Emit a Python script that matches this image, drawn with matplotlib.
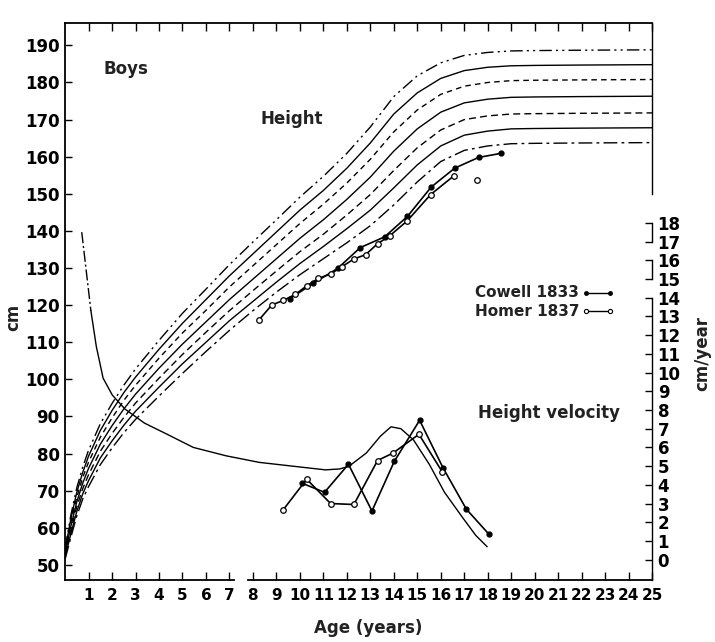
import matplotlib
matplotlib.use("Agg")
import matplotlib.pyplot as plt

plt.rcParams['font.family'] = ['DejaVu Sans']

# ---------------- data ----------------
ages = [0, 0.25, 0.5, 0.75, 1, 1.5, 2, 2.5, 3, 4, 5, 6, 7, 8, 9, 10, 11, 12,
        13, 14, 15, 16, 17, 18, 19, 20, 22, 25]
c3 = [51.5, 57.5, 63.2, 67.7, 71.1, 77.0, 81.5, 85.6, 89.2, 95.5, 101.6, 107.5,
      113.2, 118.5, 123.5, 128.2, 132.5, 136.8, 141.4, 147.0, 153.2, 158.7,
      161.7, 162.9, 163.5, 163.6, 163.7, 163.8]
c10 = [52.0, 58.5, 64.4, 69.1, 72.7, 78.8, 83.4, 87.6, 91.4, 97.9, 104.2, 110.0,
       115.8, 121.0, 126.2, 131.2, 135.8, 140.6, 145.6, 151.6, 157.8, 162.9,
       165.8, 166.9, 167.5, 167.6, 167.7, 167.8]
c25 = [52.5, 59.4, 65.7, 70.5, 74.3, 80.6, 85.4, 89.7, 93.6, 100.3, 106.7, 112.7,
       118.5, 123.9, 129.2, 134.4, 139.1, 144.3, 149.8, 156.3, 162.4, 167.2,
       170.0, 171.0, 171.5, 171.6, 171.7, 171.8]
c50 = [53.0, 60.5, 67.0, 72.0, 76.0, 82.5, 87.5, 92.0, 96.0, 103.0, 109.5, 115.5,
       121.5, 127.0, 132.5, 138.0, 143.0, 148.5, 154.5, 161.5, 167.5, 172.0,
       174.5, 175.5, 176.0, 176.1, 176.2, 176.3]
c75 = [53.5, 61.6, 68.3, 73.5, 77.7, 84.4, 89.6, 94.3, 98.4, 105.7, 112.5, 118.6,
       124.9, 130.6, 136.3, 142.0, 147.2, 152.9, 159.3, 166.7, 172.6, 176.8,
       179.0, 180.0, 180.5, 180.6, 180.7, 180.8]
c90 = [54.0, 62.5, 69.6, 74.9, 79.3, 86.2, 91.6, 96.4, 100.6, 108.1, 115.1, 121.5,
       127.9, 133.8, 139.7, 145.6, 150.9, 156.9, 163.7, 171.5, 177.2, 181.1,
       183.2, 184.1, 184.5, 184.6, 184.7, 184.8]
c97 = [54.5, 63.5, 70.8, 76.3, 80.9, 88.0, 93.5, 98.4, 102.8, 110.5, 117.8, 124.3,
       130.9, 137.0, 143.0, 149.1, 154.7, 160.9, 168.0, 176.2, 181.8, 185.3,
       187.3, 188.1, 188.5, 188.6, 188.7, 188.8]

# Cowell 1833 (filled) and Horner 1837 (open) heights
cowell_age = [9.56, 10.58, 11.61, 12.57, 13.61, 14.58, 15.59, 16.59, 17.61, 18.56]
cowell_h = [121.7, 125.9, 129.9, 135.5, 138.4, 143.9, 151.8, 156.9, 159.8, 160.9]
horner_age = [8.27, 8.80, 9.30, 9.81, 10.29, 10.79, 11.31, 11.78, 12.29, 12.80,
              13.32, 13.83, 14.57, 15.57, 16.57]
horner_h = [116.1, 120.0, 121.3, 122.9, 125.2, 127.2, 128.4, 130.3, 132.4, 133.6,
            136.6, 138.7, 142.7, 149.8, 154.9]
horner_extra_age = [17.56]
horner_extra_h = [153.8]

# velocity (cm/year)
vel_age = [0.71, 1.10, 1.33, 1.62, 2.01, 2.55, 3.38, 4.35, 5.46, 6.86, 8.27,
           9.68, 11.09, 11.70, 12.10, 12.83, 13.43, 13.88, 14.30, 14.84, 15.51,
           16.16, 16.96, 17.49, 17.97]
vel = [17.5, 13.3, 11.4, 9.7, 8.8, 8.05, 7.3, 6.7, 6.0, 5.55, 5.2, 5.0, 4.8,
       4.85, 5.0, 5.7, 6.6, 7.1, 7.0, 6.4, 5.1, 3.6, 2.2, 1.3, 0.7]
cowell_vage = [10.07, 11.05, 12.07, 13.07, 14.02, 15.10, 16.10, 17.09, 18.06]
cowell_v = [4.1, 3.6, 5.1, 2.6, 5.25, 7.45, 4.9, 2.7, 1.35]
horner_vage = [9.28, 10.29, 11.31, 12.30, 13.31, 13.97, 15.07, 16.06]
horner_v = [2.65, 4.3, 3.0, 2.95, 5.3, 5.7, 6.7, 4.7]

ylabels_left = list(range(50, 200, 10))
xlabels = list(range(1, 26))
vlabels = list(range(0, 19))

# ---------------- figure ----------------
fig = plt.figure(figsize=(7.15, 6.42), dpi=100)
ax = fig.add_axes([0.091, 0.097, 0.821, 0.867])
ax.set_xlim(0, 25)
ax.set_ylim(46, 196)

lw = 1.0
ax.plot(ages, c97, color='black', lw=lw, ls=(0, (9, 3, 1.5, 3, 1.5, 3)))
ax.plot(ages, c90, color='black', lw=lw, ls='-')
ax.plot(ages, c75, color='black', lw=lw, ls=(0, (4, 3)))
ax.plot(ages, c50, color='black', lw=lw, ls='-')
ax.plot(ages, c25, color='black', lw=lw, ls=(0, (5, 3)))
ax.plot(ages, c10, color='black', lw=lw, ls='-')
ax.plot(ages, c3, color='black', lw=lw, ls=(0, (10, 3, 2, 3)))

ax.plot(cowell_age, cowell_h, color='black', lw=1.2, marker='o', ms=3.5,
        mfc='black', mec='black')
ax.plot(horner_age, horner_h, color='black', lw=1.2, marker='o', ms=4,
        mfc='white', mec='black', mew=0.9)
ax.plot(horner_extra_age, horner_extra_h, ls='none', marker='o', ms=4,
        mfc='white', mec='black', mew=0.9)

# spines / ticks
for s in ['top', 'left']:
    ax.spines[s].set_linewidth(1.3)
ax.spines['bottom'].set_visible(False)
ax.plot([0, 7.2], [46, 46], color='black', lw=1.3, clip_on=False)
ax.plot([7.8, 25], [46, 46], color='black', lw=1.3, clip_on=False)
ax.spines['right'].set_bounds(150, 196)
ax.spines['right'].set_linewidth(1.0)

ax.set_yticks(ylabels_left)
ax.set_yticklabels([str(v) for v in ylabels_left])
ax.set_xticks(xlabels)
ax.set_xticklabels([str(v) for v in xlabels])
ax.tick_params(axis='y', direction='in', length=5, width=1, right=False,
               labelsize=12, pad=4)
ax.tick_params(axis='x', direction='in', length=6, width=1, top=True,
               labelsize=11, pad=6)
for lab in ax.get_xticklabels() + ax.get_yticklabels():
    lab.set_fontweight('bold')

# velocity axis
ax2 = ax.twinx()
ax2.set_ylim(-1.07, 28.67)
ax2.set_xlim(0, 25)
for s in ['top', 'left', 'bottom']:
    ax2.spines[s].set_visible(False)
ax2.spines['right'].set_bounds(-1.07, 14)
ax2.spines['right'].set_linewidth(1.0)
ax2.set_yticks(vlabels)
ax2.set_yticklabels([str(v) for v in vlabels])
ax2.tick_params(axis='y', direction='in', length=5, width=1, labelsize=12, pad=4)
for lab in ax2.get_yticklabels():
    lab.set_fontweight('bold')
ax2.plot([25, 25], [15, 16], color='black', lw=1.0, clip_on=False)
ax2.plot([25, 25], [17, 18], color='black', lw=1.0, clip_on=False)

ax2.plot(vel_age[:2], vel[:2], color='black', lw=1.0, ls=(0, (8, 2, 1.5, 2)))
ax2.plot(vel_age[1:], vel[1:], color='black', lw=1.0)
ax2.plot(cowell_vage, cowell_v, color='black', lw=1.2, marker='o', ms=3.5,
         mfc='black', mec='black')
ax2.plot(horner_vage, horner_v, color='black', lw=1.2, marker='o', ms=4,
         mfc='white', mec='black', mew=0.9)

# texts
tkw = dict(fontweight='bold', color='#222222')
ax.text(2.6, 183.5, 'Boys', ha='center', va='center', fontsize=12, **tkw)
ax.text(9.65, 170.2, 'Height', ha='center', va='center', fontsize=12, **tkw)
ax.text(20.6, 91, 'Height velocity', ha='center', va='center', fontsize=12, **tkw)
ax.text(21.9, 123.4, 'Cowell 1833', ha='right', va='center', fontsize=11, **tkw)
ax.text(21.9, 118.3, 'Homer 1837', ha='right', va='center', fontsize=11, **tkw)
ax.plot([22.2, 23.2], [123.4, 123.4], color='black', lw=1.0, marker='o', ms=2.5,
        mfc='black', mec='black')
ax.plot([22.2, 23.2], [118.3, 118.3], color='black', lw=1.0, marker='o', ms=3,
        mfc='white', mec='black', mew=0.8)

fig.text(0.018, 0.505, 'cm', rotation=90, ha='center', va='center',
         fontsize=12, **tkw)
fig.text(0.982, 0.45, 'cm/year', rotation=90, ha='center', va='center',
         fontsize=12, **tkw)
fig.text(0.515, 0.022, 'Age (years)', ha='center', va='center', fontsize=12, **tkw)

fig.savefig('out.png', dpi=100)
